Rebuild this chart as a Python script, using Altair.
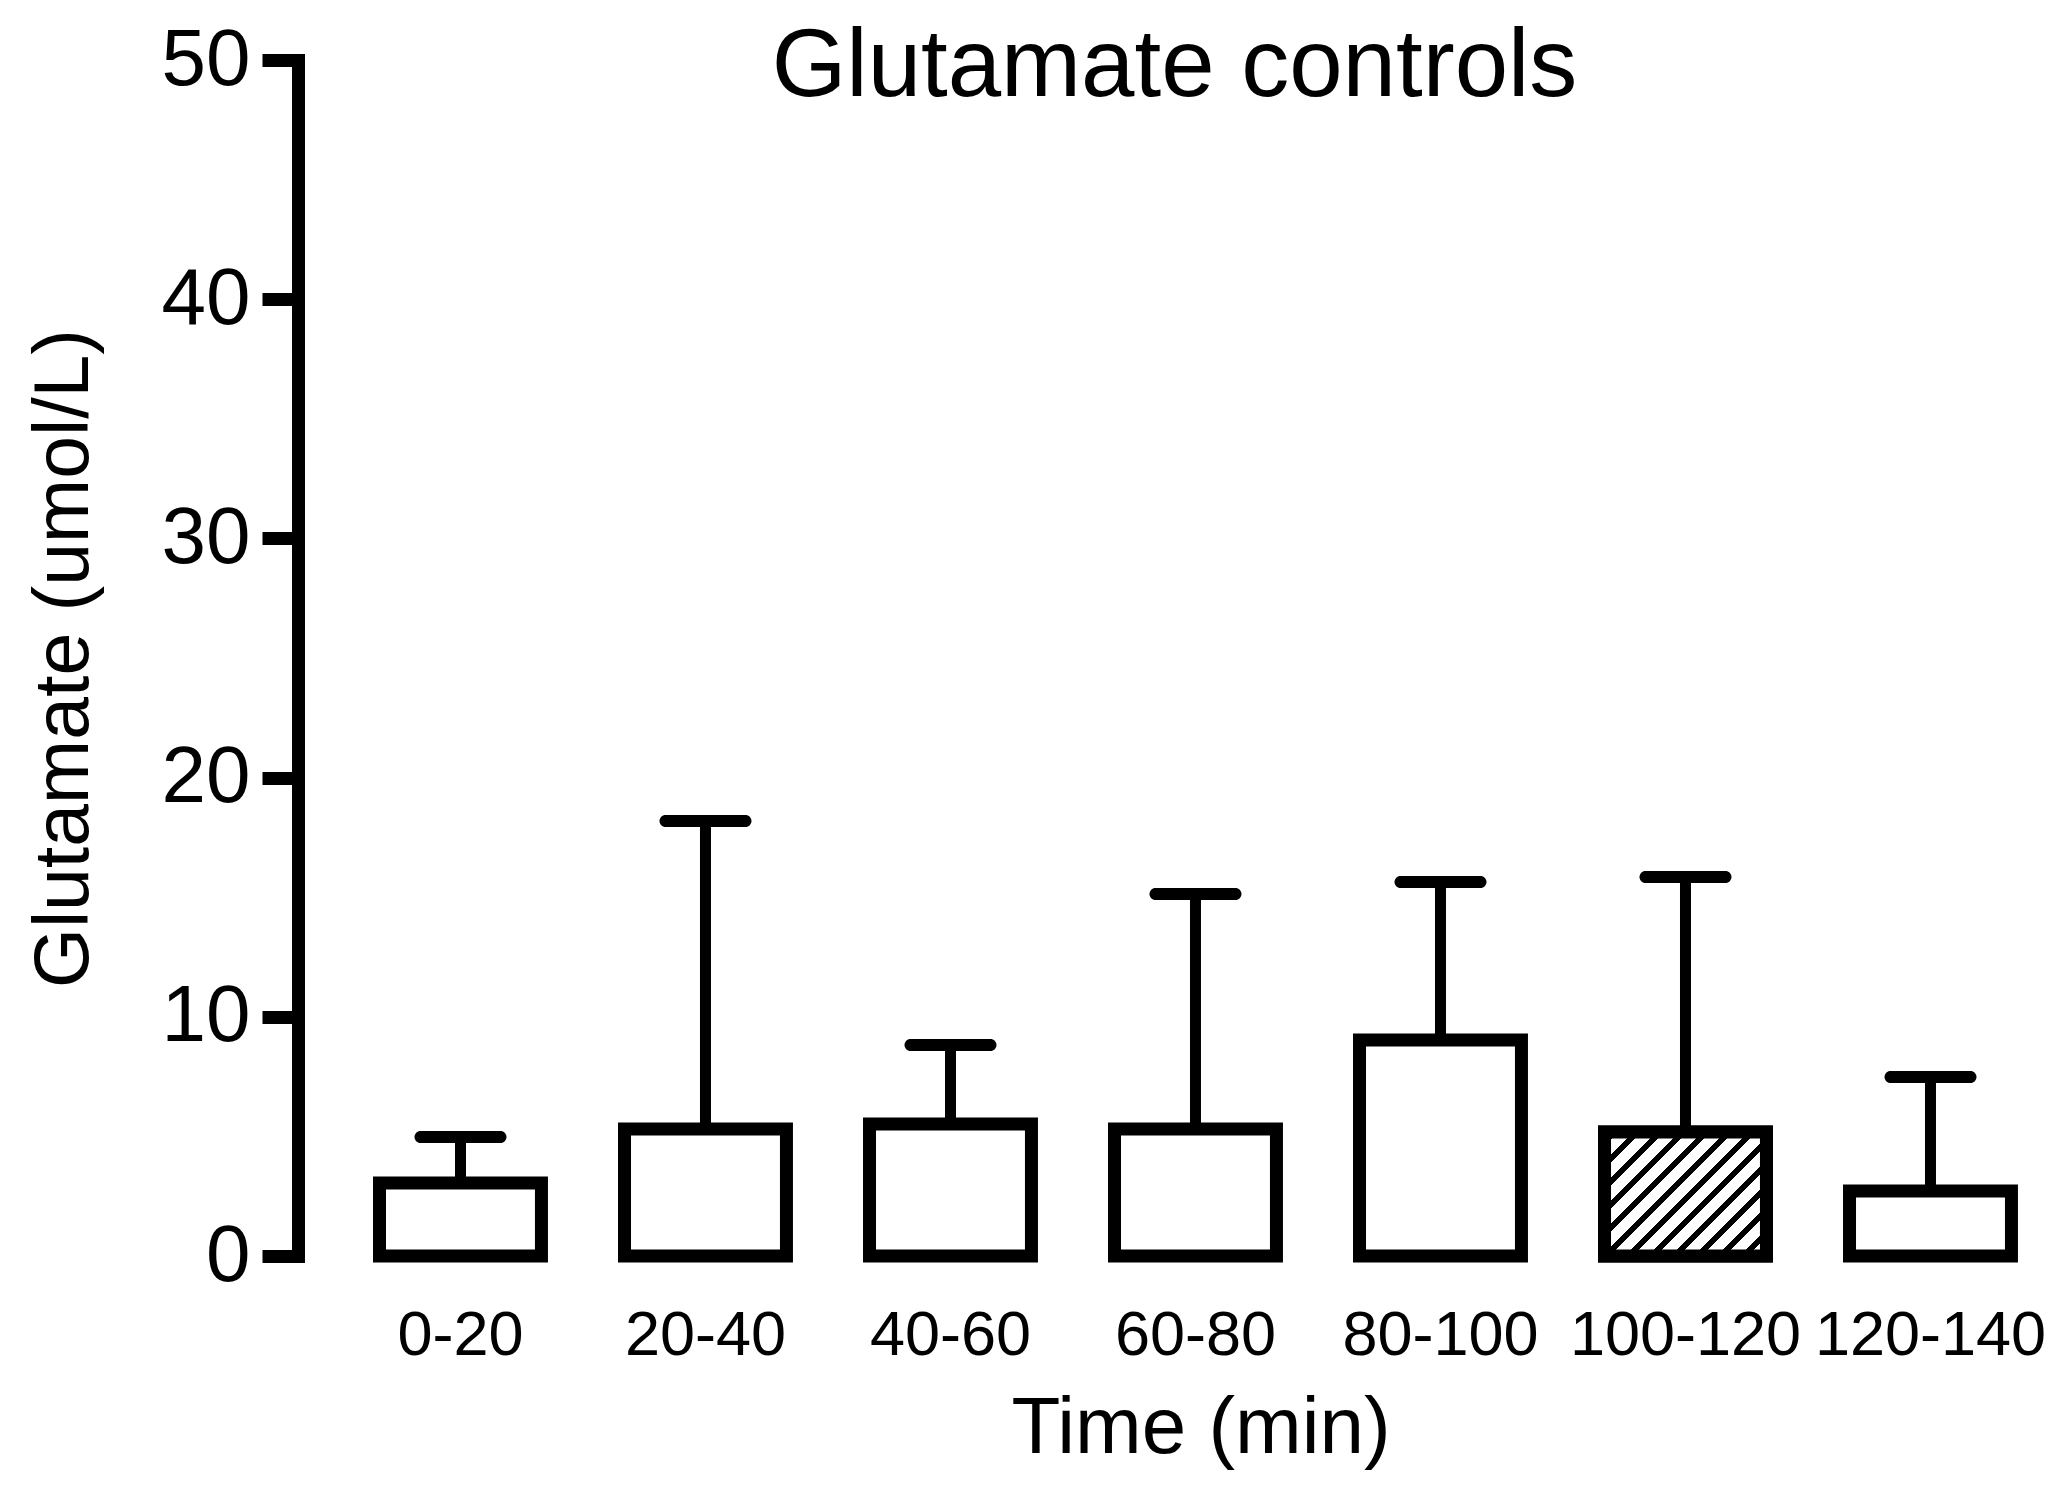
import altair as alt
import pandas as pd

# ---- data ----
categories = ["0-20", "20-40", "40-60", "60-80", "80-100", "100-120", "120-140"]
means = [3.05, 5.31, 5.52, 5.31, 9.03, 5.18, 2.72]
sds = [1.92, 12.88, 3.30, 9.82, 6.61, 10.66, 4.76]
patterns = ["open", "open", "open", "open", "open", "hatched", "open"]
y_ticks = [0, 10, 20, 30, 40, 50]

title_text = "Glutamate controls"
x_title = "Time (min)"
y_title = "Glutamate (umol/L)"

FONT = "Liberation Sans"
W, H = 1745, 1196
Y_MAX = 50
P_INNER, P_OUTER, ALIGN = 0.339, 0.2307, 0.721

df = pd.DataFrame({
    "time": categories,
    "mean": means,
    "upper": [m + s for m, s in zip(means, sds)],
    "pattern": patterns,
})

x_enc = alt.X(
    "time:N",
    sort=categories,
    scale=alt.Scale(paddingInner=P_INNER, paddingOuter=P_OUTER, align=ALIGN, round=False),
    axis=alt.Axis(
        title=x_title, domain=False, ticks=False, tickSize=0, labelAngle=0,
        labelFont=FONT, labelFontSize=63, labelColor="black", labelPadding=48,
        labelLimit=0,
        titleFont=FONT, titleFontSize=80, titleFontWeight="normal", titleColor="black",
        titlePadding=22, titleX=W / 2 + 30,
    ),
)
y_scale = alt.Scale(domain=[0, Y_MAX], nice=False, zero=True)
y_axis = alt.Axis(
    title=y_title, values=y_ticks, grid=False,
    domain=True, domainColor="black", domainWidth=13, domainCap="square",
    ticks=True, tickColor="black", tickWidth=13, tickSize=36,
    labelFont=FONT, labelFontSize=80, labelColor="black", labelPadding=12,
    titleFont=FONT, titleFontSize=77, titleFontWeight="normal", titleColor="black",
    titlePadding=58,
)

base = alt.Chart(df)

bars = base.mark_bar(fill="white", stroke="black", strokeWidth=13).encode(
    x=x_enc,
    y=alt.Y("mean:Q", scale=y_scale, axis=y_axis),
)

# diagonal hatch for the patterned bar, made as a striped linear gradient
step = W / (len(categories) - P_INNER + 2 * P_OUTER)
bw = step * (1 - P_INNER)
hatched_rows = df[df["pattern"] == "hatched"]
layers = [bars]
for _, row in hatched_rows.iterrows():
    bh = row["mean"] * H / Y_MAX
    s = 1.15
    period = 23 * bw / (s * (bw * bw + bh * bh))
    dark = 0.36 * period
    stops = [alt.GradientStop(offset=0, color="white")]
    k = 0
    t0 = 0.02
    while True:
        a = t0 + k * period
        b = a + dark
        if b >= 1:
            break
        stops += [
            alt.GradientStop(offset=a, color="white"),
            alt.GradientStop(offset=a, color="black"),
            alt.GradientStop(offset=b, color="black"),
            alt.GradientStop(offset=b, color="white"),
        ]
        k += 1
    stops.append(alt.GradientStop(offset=1, color="white"))
    grad = alt.LinearGradient(gradient="linear", stops=stops,
                              x1=0, y1=0, x2=s, y2=s * bh / bw)
    hb = alt.Chart(pd.DataFrame([row])).mark_bar(
        fill=grad, stroke="black", strokeWidth=13
    ).encode(x=alt.X("time:N", sort=categories), y=alt.Y("mean:Q"))
    layers.append(hb)

err = base.mark_rule(color="black", strokeWidth=11).encode(
    x=alt.X("time:N", sort=categories),
    y="mean:Q",
    y2="upper:Q",
)
caps = base.mark_tick(color="black", thickness=12, size=92, cornerRadius=6, opacity=1).encode(
    x=alt.X("time:N", sort=categories),
    y="upper:Q",
)
title = alt.Chart(pd.DataFrame({"t": [title_text]})).mark_text(
    font=FONT, fontSize=96, color="black", align="center", baseline="alphabetic"
).encode(text="t:N", x=alt.value(W / 2 + 4), y=alt.value(36))

layers += [err, caps, title]

chart = alt.layer(*layers).properties(
    width=W, height=H,
    background="white",
    autosize=alt.AutoSizeParams(type="none"),
    padding={"left": 290, "top": 52, "right": 10, "bottom": 230},
).configure_view(stroke=None, strokeWidth=0)

chart.save("out.html", embed_options={"renderer": "svg", "actions": False})
